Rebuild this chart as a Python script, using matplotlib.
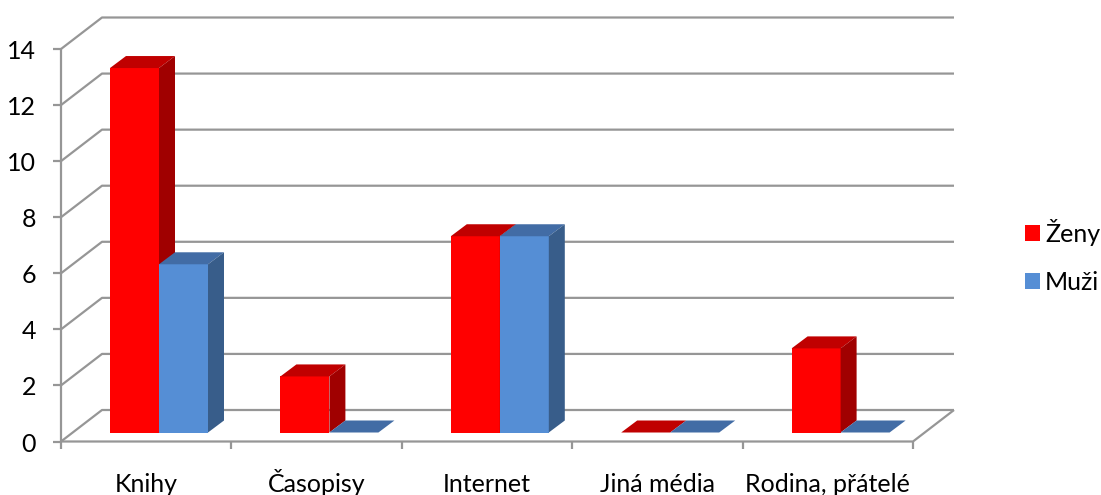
#!/usr/bin/env python3
# -*- coding: utf-8 -*-
# Sloupcovy graf s 3D vzhledem: zdroje informaci podle pohlavi.

import matplotlib
matplotlib.use("Agg")  # headless
import matplotlib.pyplot as plt
from matplotlib.patches import Patch, Polygon

categories = ["Knihy", "Časopisy", "Internet", "Jiná média", "Rodina, přátelé"]
zeny = [13, 2, 7, 0, 3]
muzi = [6, 0, 7, 0, 0]
y_ticks = [0, 2, 4, 6, 8, 10, 12, 14]

W, H = 1101, 495
AX_L, AX_R, AX_T, AX_B = 61, 913, 49, 441.5  # front frame in pixels
GRID = "#969696"
FONT = "Lato"
FS = 18

plt.rcParams["font.family"] = [FONT, "DejaVu Sans"]

fig = plt.figure(figsize=(W / 100, H / 100), dpi=100)
ax = fig.add_axes([AX_L / W, 1 - AX_B / H, (AX_R - AX_L) / W, (AX_B - AX_T) / H])
ax.set_xlim(0, len(categories))
ax.set_ylim(0, 14)
ax.axis("off")

# oblique depth in data units
ppx = (AX_R - AX_L) / len(categories)
ppy = (AX_B - AX_T) / 14
wall_dx, wall_dy = 41 / ppx, 31.5 / ppy
bar_dx, bar_dy = 16 / ppx, 12 / ppy
floor_y = 9.0 / ppy
bar_w = 49 / ppx
bar_off = 49 / ppx


def line(xs, ys, **kw):
    ax.plot(xs, ys, color=GRID, lw=1.6, clip_on=False, solid_capstyle="butt", **kw)


# walls and floor
for v in y_ticks:
    line([0, wall_dx, 5 + wall_dx], [v, v + wall_dy, v + wall_dy])
    line([-8 / ppx, 0], [v, v])
line([0, 0], [0, 14])
line([0, 5, 5 + wall_dx], [0, 0, wall_dy])
for i in range(len(categories) + 1):
    line([i, i], [0, -7 / ppy])


def bar3d(x, val, front, top, side):
    ax.bar(x, val, bar_w, bottom=floor_y, align="edge", color=front, clip_on=False, zorder=3)
    y1 = floor_y + val
    ax.add_patch(Polygon([(x, y1), (x + bar_dx, y1 + bar_dy), (x + bar_w + bar_dx, y1 + bar_dy),
                          (x + bar_w, y1)], closed=True, fc=top, ec="none", clip_on=False, zorder=3))
    if val > 0:
        ax.add_patch(Polygon([(x + bar_w, floor_y), (x + bar_w + bar_dx, floor_y + bar_dy),
                              (x + bar_w + bar_dx, y1 + bar_dy), (x + bar_w, y1)],
                             closed=True, fc=side, ec="none", clip_on=False, zorder=3))


for i, (z, m) in enumerate(zip(zeny, muzi)):
    bar3d(i + bar_off, z, "#FF0000", "#C00000", "#A00000")
    bar3d(i + bar_off + bar_w, m, "#558ED5", "#426CA5", "#385D8A")

for v in y_ticks:
    ax.text(-25 / ppx, v - 2.5 / ppy, str(v), ha="right", va="center", fontsize=FS, color="black", clip_on=False)
for i, c in enumerate(categories):
    ax.text(i + 0.5, -50 / ppy, c, ha="center", va="baseline", fontsize=FS, color="black", clip_on=False)

handles = [Patch(fc="#FF0000", label="Ženy"), Patch(fc="#558ED5", label="Muži")]
fig.legend(handles=handles, loc="center left", bbox_to_anchor=(1025 / W, 1 - 256 / H),
           frameon=False, fontsize=FS, handlelength=0.6, handleheight=0.6,
           handletextpad=0.2, labelspacing=1.0, borderpad=0, borderaxespad=0)

fig.savefig("out.png", dpi=100)
plt.close(fig)
